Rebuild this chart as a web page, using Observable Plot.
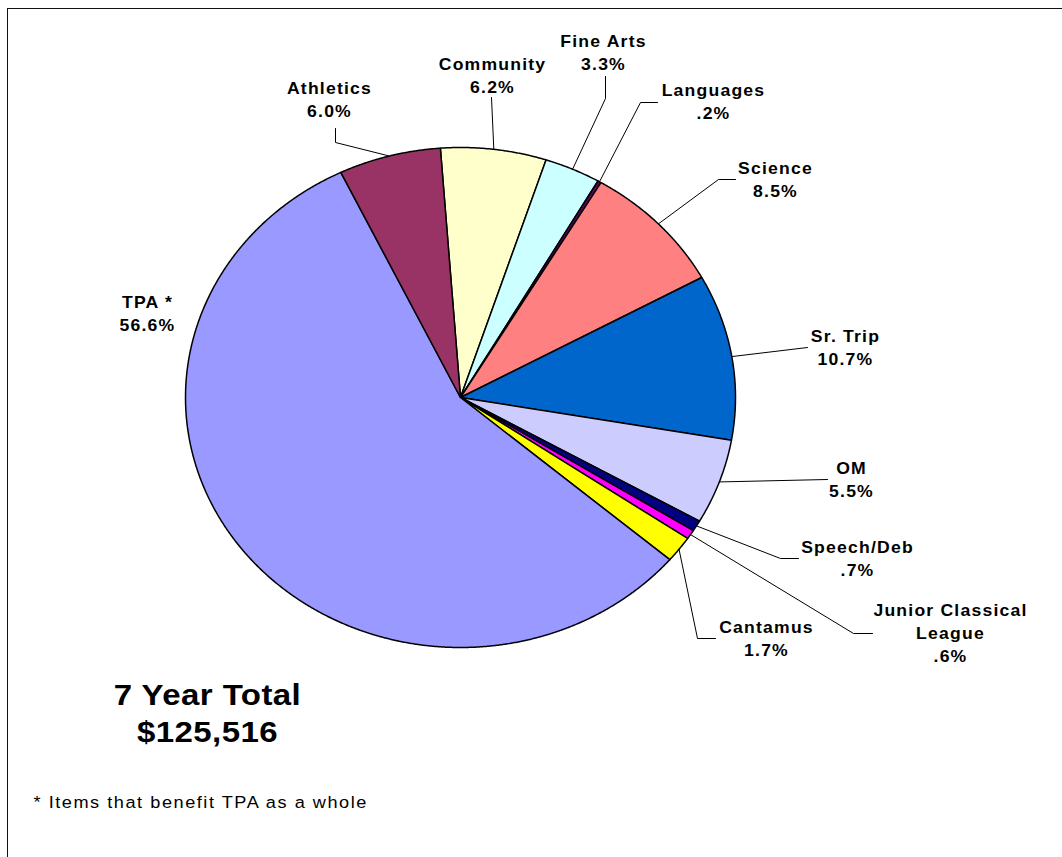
<!DOCTYPE html>
<html><head><meta charset="utf-8">
<script src="https://cdn.jsdelivr.net/npm/d3@7"></script>
<script src="https://cdn.jsdelivr.net/npm/@observablehq/plot@0.6"></script>
<style>
html,body{margin:0;padding:0;background:#fff;overflow:hidden}
#wrap{position:relative;width:1062px;height:857px;overflow:hidden}
#frame{position:absolute;left:7px;top:8px;width:1200px;height:1000px;border-left:1.5px solid #111;border-top:1.5px solid #111;}
#chart{position:absolute;left:0;top:0}
#chart svg{background:transparent}
#chart text{font-family:"Liberation Sans",Arial,sans-serif;fill:#000}
</style></head><body>
<div id="wrap"><div id="chart"></div><div id="frame"></div></div>
<script>
// ---- data ----
const categories = ["Community","Fine Arts","Languages","Science","Sr. Trip","OM","Speech/Deb","Junior Classical\nLeague","Cantamus","TPA *","Athletics"];
const percents = [6.2,3.3,0.2,8.5,10.7,5.5,0.7,0.6,1.7,56.6,6.0];
const percentLabels = ["6.2%","3.3%",".2%","8.5%","10.7%","5.5%",".7%",".6%","1.7%","56.6%","6.0%"];
const colors = ["#FFFFCC","#CCFFFF","#660066","#FF8080","#0066CC","#CCCCFF","#000080","#FF00FF","#FFFF00","#9999FF","#993366"];
const totalTitle = "7 Year Total";
const totalValue = "$125,516";
const footnote = "* Items that benefit TPA as a whole";

// ---- layout (pixels) ----
const CX = 460, CY = 397, RX = 275, RY = 250, START = -4.2;
const STRETCH = RX / RY; // the original picture is stretched horizontally
const labelAnchor = [[492,92],[603,69],[713,118],[775,196],[845,364],[851,496],[857,575],[950,661],[766,655],[147,330],[329,116]];
const leaderBends = [[[491,97]],[[605,98],[605,76]],[[640,102],[657,102]],[[718,179],[735,179]],[[807,347]],[[827,479]],[[780,558],[798,558]],[[853,633],[872,633]],[[697,638],[715,638]],[],[[335,142],[335,128]]];
const totalAnchor = [207,741];
const footAnchor = [33,807];

const X = px => (px - CX) / RX;
const Y = py => (CY - py) / RY;
const rad = d => d * Math.PI / 180;

// slice angles from data
const total = d3.sum(percents);
let acc = 0;
const slices = percents.map((v, i) => {
  const a0 = START + acc / total * 360;
  acc += v;
  const a1 = START + acc / total * 360;
  return {i, a0, a1, mid: (a0 + a1) / 2};
});

const sliceMarks = slices.map(s => {
  const pts = [{x: 0, y: 0}];
  const n = Math.max(2, Math.ceil((s.a1 - s.a0) / 0.25));
  for (let k = 0; k <= n; k++) {
    const a = rad(s.a0 + (s.a1 - s.a0) * k / n);
    pts.push({x: Math.sin(a), y: Math.cos(a)});
  }
  return Plot.line(pts, {x: "x", y: "y", curve: "linear-closed", fill: colors[s.i], stroke: "#000", strokeWidth: 1.5, strokeLinejoin: "round"});
});

const leaderMarks = slices.filter(s => leaderBends[s.i].length).map(s => {
  const a = rad(s.mid);
  const pts = [{x: Math.sin(a), y: Math.cos(a)}, ...leaderBends[s.i].map(([px, py]) => ({x: X(px), y: Y(py)}))];
  return Plot.line(pts, {x: "x", y: "y", stroke: "#000", strokeWidth: 1});
});

const labelData = categories.map((c, i) => ({text: c + "\n" + percentLabels[i], x: X(labelAnchor[i][0]), y: Y(labelAnchor[i][1])}));

const chart = Plot.plot({
  width: 1062, height: 857, margin: 0,
  x: {domain: [-1, 1], range: [CX - RX, CX + RX], axis: null},
  y: {domain: [-1, 1], range: [CY + RY, CY - RY], axis: null},
  marks: [
    ...sliceMarks,
    ...leaderMarks,
    Plot.text(labelData, {x: "x", y: "y", text: "text", lineAnchor: "bottom", lineHeight: 1.42, fontSize: 16, fontWeight: "bold", textAnchor: "middle"}),
    Plot.text([{text: totalTitle + "\n" + totalValue, x: X(totalAnchor[0]), y: Y(totalAnchor[1])}], {x: "x", y: "y", text: "text", lineAnchor: "bottom", lineHeight: 1.23, fontSize: 30, fontWeight: "bold", textAnchor: "middle"}),
    Plot.text([{text: footnote, x: X(footAnchor[0]), y: Y(footAnchor[1])}], {x: "x", y: "y", text: "text", lineAnchor: "bottom", fontSize: 16.5, textAnchor: "start"})
  ]
});
const textGroups = chart.querySelectorAll('g[aria-label="text"]');
const spacing = ["1.1px", "0.4px", "1.4px"];
textGroups.forEach((g, k) => {
  g.setAttribute("letter-spacing", spacing[k]);
  g.querySelectorAll("text").forEach(t => {
    const tr = t.getAttribute("transform");
    if (tr) t.setAttribute("transform", tr + ` scale(${STRETCH},1)`);
    else {
      const x0 = +t.getAttribute("x") || 0;
      t.setAttribute("transform", `translate(${x0 * (1 - STRETCH)},0) scale(${STRETCH},1)`);
    }
  });
});
document.getElementById("chart").appendChild(chart);
</script>
</body></html>
